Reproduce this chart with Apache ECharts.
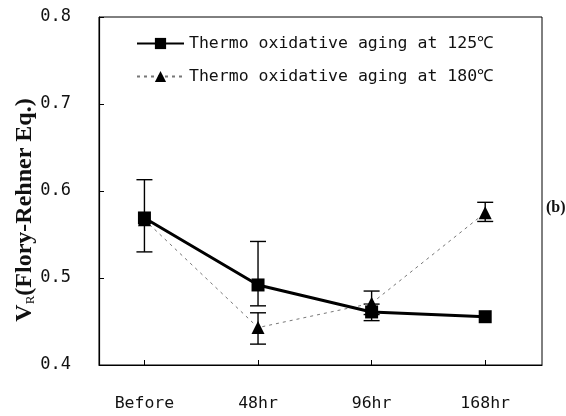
<!DOCTYPE html>
<html>
<head>
<meta charset="utf-8">
<script src="https://cdn.jsdelivr.net/npm/echarts@6/dist/echarts.min.js"></script>
<style>html,body{margin:0;padding:0;background:#fff;}#c{width:566px;height:416px;}</style>
</head>
<body>
<div id="c"></div>
<script>
const categories = ['Before', '48hr', '96hr', '168hr'];
const yTicks = [0.4, 0.5, 0.6, 0.7, 0.8];
const name125 = 'Thermo oxidative aging at 125\u2103';
const name180 = 'Thermo oxidative aging at 180\u2103';
const vals125 = [0.569, 0.492, 0.461, 0.4555];
const low125 = [0.530, 0.468, 0.451, null];
const high125 = [0.613, 0.542, 0.470, null];
const vals180 = [0.567, 0.443, 0.471, 0.575];
const low180 = [null, 0.424, 0.458, 0.565];
const high180 = [null, 0.460, 0.485, 0.587];

const monoFont = '"DejaVu Sans Mono", monospace';
const xIdx = categories.map((c, i) => i);

function errData(lo, hi) {
  const out = [];
  xIdx.forEach(i => { if (lo[i] != null && hi[i] != null) out.push([i, lo[i], hi[i]]); });
  return out;
}
function errRender(params, api) {
  const x = api.value(0), lo = api.value(1), hi = api.value(2);
  const a = api.coord([x, hi]), b = api.coord([x, lo]);
  const w = 8;
  const st = { stroke: '#000', lineWidth: 1.4 };
  return {
    type: 'group',
    children: [
      { type: 'line', shape: { x1: a[0], y1: a[1], x2: b[0], y2: b[1] }, style: st },
      { type: 'line', shape: { x1: a[0] - w, y1: a[1], x2: a[0] + w, y2: a[1] }, style: st },
      { type: 'line', shape: { x1: b[0] - w, y1: b[1], x2: b[0] + w, y2: b[1] }, style: st }
    ]
  };
}

const chart = echarts.init(document.getElementById('c'));
chart.setOption({
  animation: false,
  backgroundColor: '#fff',
  grid: { left: 99, right: 24, top: 17, bottom: 51, show: true, borderColor: '#000', borderWidth: 1 },
  xAxis: {
    type: 'value', min: -0.4, max: 3.5,
    splitLine: { show: false },
    axisLine: { show: true, onZero: false, lineStyle: { color: '#000', width: 1.2 } },
    axisTick: { show: true, inside: true, length: 5, customValues: xIdx, lineStyle: { color: '#000' } },
    axisLabel: {
      customValues: xIdx, margin: 30,
      formatter: v => categories[Math.round(v)],
      fontFamily: monoFont, fontSize: 16.5, color: '#111'
    }
  },
  yAxis: {
    type: 'value', min: 0.4, max: 0.8, interval: 0.1,
    splitLine: { show: false },
    axisLine: { show: true, onZero: false, lineStyle: { color: '#000', width: 1.2 } },
    axisTick: { show: true, inside: true, length: 5, lineStyle: { color: '#000' } },
    axisLabel: {
      margin: 28, formatter: v => v.toFixed(1),
      fontFamily: monoFont, fontSize: 17, color: '#111'
    }
  },
  legend: {
    orient: 'vertical', left: 131, top: 30,
    itemWidth: 47, itemHeight: 14, itemGap: 16,
    textStyle: { fontFamily: monoFont, fontSize: 16.5, color: '#111', lineHeight: 17 },
    data: [name125, name180]
  },
  graphic: [
    {
      type: 'text', x: 25, y: 210, rotation: Math.PI / 2,
      style: {
        text: '{v|V}{s|R}{v|(Flory-Rehner Eq.)}',
        align: 'center', verticalAlign: 'middle',
        rich: {
          v: { fontFamily: '"Liberation Serif", serif', fontWeight: 'bold', fontSize: 24, fill: '#111' },
          s: { fontFamily: '"Liberation Serif", serif', fontSize: 13, fill: '#111', padding: [12, 0, 0, 0] }
        }
      }
    },
    {
      type: 'text', x: 546, y: 208,
      style: { text: '(b)', fontFamily: '"Liberation Serif", serif', fontWeight: 'bold', fontSize: 16, fill: '#111', verticalAlign: 'middle' }
    }
  ],
  series: [
    {
      name: name180, type: 'line',
      data: xIdx.map(i => [i, vals180[i]]),
      symbol: 'triangle', symbolSize: 13,
      itemStyle: { color: '#000' },
      lineStyle: { color: '#777', width: 1, type: [3, 4] },
      z: 3
    },
    {
      name: name125, type: 'line',
      data: xIdx.map(i => [i, vals125[i]]),
      symbol: 'rect', symbolSize: 13,
      itemStyle: { color: '#000' },
      lineStyle: { color: '#000', width: 3 },
      z: 4
    },
    { type: 'custom', renderItem: errRender, data: errData(low125, high125), z: 2, silent: true },
    { type: 'custom', renderItem: errRender, data: errData(low180, high180), z: 2, silent: true }
  ]
});
</script>
</body>
</html>
